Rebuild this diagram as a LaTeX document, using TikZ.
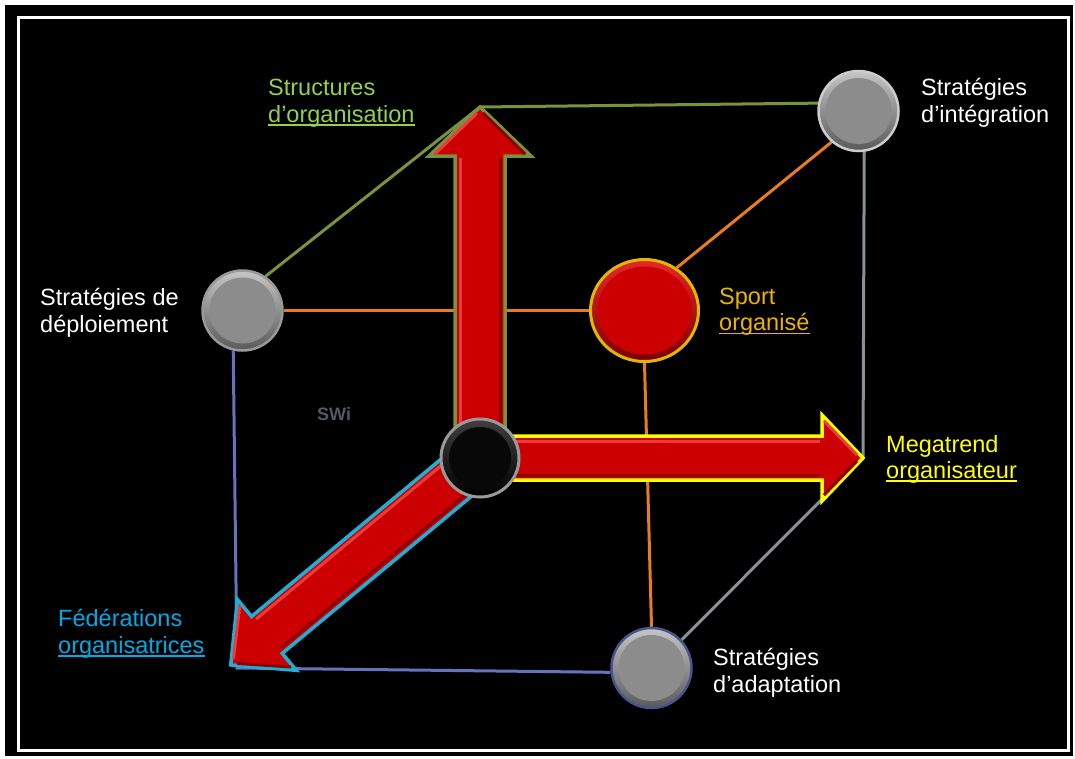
\documentclass[tikz,border=0pt]{standalone}
\usepackage{fontspec}
\setmainfont{Liberation Sans}
\usetikzlibrary{shapes.geometric}
\definecolor{grnln}{RGB}{119,147,60}
\definecolor{grntx}{RGB}{146,208,80}
\definecolor{yel}{RGB}{255,255,0}
\definecolor{sporttx}{RGB}{235,180,0}
\definecolor{orgln}{RGB}{232,125,30}
\definecolor{cyantx}{RGB}{0,170,230}
\definecolor{cyanln}{RGB}{30,175,215}
\definecolor{blueln}{RGB}{100,115,190}
\definecolor{grayln}{RGB}{135,145,150}
\definecolor{arred}{RGB}{204,0,0}
\definecolor{arlight}{RGB}{235,60,60}
\definecolor{ardark}{RGB}{140,0,0}
\definecolor{swi}{RGB}{80,90,100}
\pgfdeclarelayer{bg}
\pgfdeclarelayer{lines}
\pgfdeclarelayer{arrows}
\pgfsetlayers{bg,lines,arrows,main}
\tikzset{
  ball/.style={circle, inner sep=0pt, minimum size=80pt, line width=2.5pt,
    top color=gray!45, bottom color=black!65,
    path picture={\fill[black!45] (path picture bounding box.center) circle (33pt);}},
  cline/.style={line width=3pt},
  arrowbody/.style={fill=arred, line width=3.5pt},
  hilite/.style={arlight, line width=3pt},
  shadow/.style={ardark, line width=3pt},
  lbl/.style={anchor=base west, inner sep=0pt, font=\fontsize{23.5}{27}\selectfont},
  uline/.style={line width=1.5pt},
}
\begin{document}
\begin{tikzpicture}[x=1pt,y=-1pt]
\useasboundingbox (0,0) rectangle (1075,758);
\begin{pgfonlayer}{bg}
\fill[white] (0,0) rectangle (1075,758);
\fill[black] (5,5) rectangle (1073,756);
\draw[white, line width=3pt] (18.5,17) rectangle (1068,750.5);
\end{pgfonlayer}

% circles
\node[ball, draw=black!20] (int) at (858.5,111) {};
\node[ball, draw=black!40] (dep) at (242.5,310.5) {};
\node[ball, draw={rgb,255:red,70;green,85;blue,140}] (ada) at (651.5,668) {};
\node[ellipse, inner sep=0pt, minimum width=108pt, minimum height=102pt, line width=3pt,
  draw={rgb,255:red,224;green,184;blue,0}, top color={rgb,255:red,230;green,40;blue,40}, bottom color={rgb,255:red,120;green,0;blue,0},
  path picture={\fill[arred] (path picture bounding box.center) ellipse [x radius=47pt, y radius=44pt];}] (sport) at (644.5,310.5) {};
\node[circle, inner sep=0pt, minimum size=78pt, line width=3pt, draw=black!40,
  top color=black!75, bottom color=black,
  path picture={\fill[black!97] (path picture bounding box.center) circle (31pt);}] (ctr) at (480,458) {};

% cube corners (arrow tips)
\coordinate (T) at (480,107);
\coordinate (R) at (863,458);
\coordinate (D) at (237,668);

\begin{pgfonlayer}{lines}
\draw[cline, grnln] (dep.56) -- (T) -- (int.169);
\draw[cline, orgln] (dep.east) -- (sport.west);
\draw[cline, orgln] (sport.53) -- (int.229);
\draw[cline, orgln] (sport.south) -- (ada.north);
\draw[cline, grayln] (int.-82) -- (R) -- (ada.43);
\draw[cline, blueln] (dep.-103) -- (D) -- (ada.186);
\end{pgfonlayer}

\begin{pgfonlayer}{arrows}
% up arrow
\begin{scope}[shift={(ctr.center)}, rotate=90]
\filldraw[arrowbody, draw=grnln] (0,-25) -- (302,-25) -- (302,-51) -- (351,0) -- (302,51) -- (302,25) -- (0,25) -- cycle;
\draw[hilite] (0,-20) -- (300,-20);
\draw[shadow] (0,20) -- (300,20);
\draw[hilite] (304,-45) -- (345,-3);
\draw[shadow] (304,45) -- (345,3);
\end{scope}
% right arrow
\begin{scope}[shift={(ctr.center)}]
\filldraw[arrowbody, draw=yel] (0,-22) -- (342,-22) -- (342,-43) -- (383,0) -- (342,43) -- (342,22) -- (0,22) -- cycle;
\draw[hilite] (0,-17) -- (340,-17);
\draw[shadow] (0,17) -- (340,17);
\draw[hilite] (344,-37) -- (377,-3);
\draw[shadow] (344,37) -- (377,3);
\end{scope}
% diagonal arrow
\begin{scope}[shift={(ctr.center)}, rotate=219.7]
\filldraw[arrowbody, draw=cyanln] (0,-24) -- (277,-24) -- (277,-46) -- (324,0) -- (277,46) -- (277,24) -- (0,24) -- cycle;
\draw[shadow] (0,-19) -- (275,-19);
\draw[hilite] (0,19) -- (275,19);
\draw[shadow] (279,-40) -- (318,-3);
\draw[hilite] (279,40) -- (318,3);
\end{scope}
\end{pgfonlayer}

% labels
\node[lbl, text=grntx] (l1a) at (268,95) {Structures};
\node[lbl, text=grntx] (l1b) at (268,122) {d’organisation};
\node[lbl, text=white] (l2a) at (921,95) {Stratégies};
\node[lbl, text=white] (l2b) at (921,122.5) {d’intégration};
\node[lbl, text=white] (l3a) at (40,305) {Stratégies de};
\node[lbl, text=white] (l3b) at (40,332) {déploiement};
\node[lbl, text=sporttx] (l4a) at (719,304) {Sport};
\node[lbl, text=sporttx] (l4b) at (719,330.5) {organisé};
\node[lbl, text=yel] (l5a) at (886,452) {Megatrend};
\node[lbl, text=yel] (l5b) at (886,478) {organisateur};
\node[lbl, text=cyantx] (l6a) at (58,626) {Fédérations};
\node[lbl, text=cyantx] (l6b) at (58,653) {organisatrices};
\node[lbl, text=white] (l7a) at (713,665) {Stratégies};
\node[lbl, text=white] (l7b) at (713,692) {d’adaptation};
\node[anchor=base west, inner sep=0pt, text=swi, font=\fontsize{18}{20}\selectfont\bfseries] (swi) at (317,420) {SWi};

% underlines
\draw[uline, grntx] ([yshift=-3pt]l1b.base west) -- ([yshift=-3pt]l1b.base east);
\draw[uline, sporttx] ([yshift=-3pt]l4b.base west) -- ([yshift=-3pt]l4b.base east);
\draw[uline, yel] ([yshift=-3pt]l5b.base west) -- ([yshift=-3pt]l5b.base east);
\draw[uline, cyantx] ([yshift=-3pt]l6b.base west) -- ([yshift=-3pt]l6b.base east);
\end{tikzpicture}
\end{document}
